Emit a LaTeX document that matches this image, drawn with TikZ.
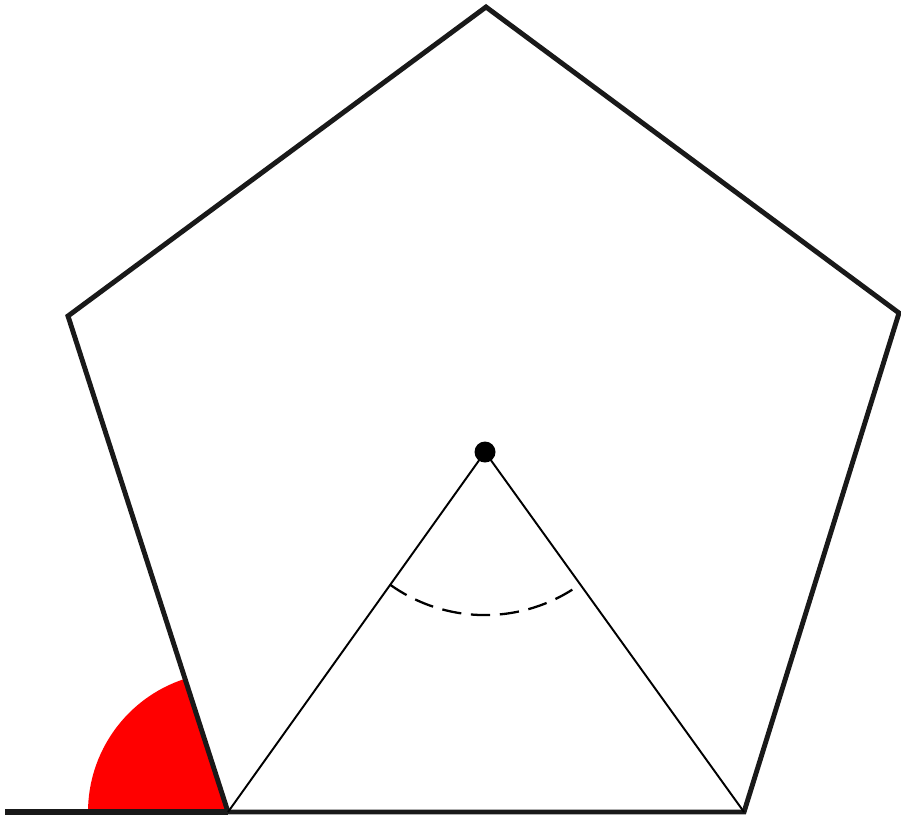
\documentclass[tikz,border=0pt]{standalone}
\usetikzlibrary{calc}

\begin{document}
\begin{tikzpicture}[
		x=0.02cm, y=-0.02cm,
		% Style for the pentagon and the base line
		edge/.style={line width=2.8pt, draw=black!90, line join=miter},
		% Style for the radii from the centre
		radius line/.style={line width=1.1pt},
		% Style for the central angle
		angle mark/.style={line width=1.3pt, dash pattern=on 11pt off 5.5pt},
		% Style for the exterior angle
		ext angle/.style={fill=red, draw=none},
		centre dot/.style={circle, fill=black, inner sep=0pt, minimum size=0.42cm}
		]
	\useasboundingbox (0,0) rectangle (901,819);

	% ==============================================================================
	% Vertices and centre
	% ==============================================================================
	\coordinate (top) at (486,7);
	\coordinate (upL) at (68,316);
	\coordinate (upR) at (899,313);
	\coordinate (lowR) at (744,812);
	\coordinate (lowL) at (228,812);
	\coordinate (baseEnd) at (5,812);
	\coordinate (centre) at (485,452);

	% Exterior angle at the lower left vertex (y axis points down)
	\fill[ext angle] (lowL) -- ++(180:140) arc[start angle=180, end angle=252, radius=140] -- cycle;

	% Pentagon
	\draw[edge] (top) -- (upR) -- (lowR) -- (lowL) -- (upL) -- cycle;
	\draw[edge, line width=3.2pt] (baseEnd) -- (lowL);

	% Radii
	\draw[radius line] (centre) -- (lowL);
	\draw[radius line] (centre) -- (lowR);

	% Central angle
	\draw[angle mark] ($(centre)!163/442!(lowL)$) arc[start angle=125.5, end angle=54.3, radius=163];

	\node[centre dot] (dot) at (centre) {};
\end{tikzpicture}
\end{document}
